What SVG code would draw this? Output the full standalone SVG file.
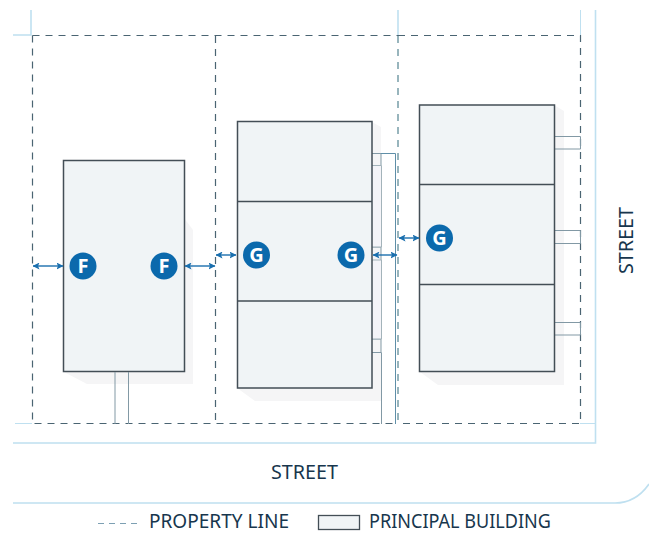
<svg xmlns="http://www.w3.org/2000/svg" width="649" height="537" viewBox="0 0 649 537">
<defs>
<marker id="ah" viewBox="0 0 7 7" refX="6.500" refY="3.500" markerWidth="7" markerHeight="7" markerUnits="userSpaceOnUse" orient="auto-start-reverse"><path d="M0 0L7 3.500L0 7L1.500 3.500Z" fill="#1a6fae"/></marker>
</defs>
<style>
text{font-family:"Noto Sans","Open Sans","Liberation Sans",sans-serif;fill:#17364d}
.street{fill:none;stroke:#bfe0f0;stroke-width:1.6}
.thin{fill:none;stroke:#bfe0f0;stroke-width:1}
.pl{fill:none;stroke:#4a6472;stroke-width:1.200;stroke-dasharray:7 6}
.pl2{fill:none;stroke:#7fa3ad;stroke-width:1.600;stroke-dasharray:7 6}
.shadow{fill:#f5f5f6}
.b{fill:#f0f4f6;stroke:#434e56;stroke-width:1.500}
.div{stroke:#434e56;stroke-width:1.500;fill:none}
.ln{fill:none;stroke:#8299a5;stroke-width:1}
.ln2{fill:none;stroke:#5f8fa8;stroke-width:1}
.side{fill:#f4f4f8;stroke:#a3b3ba;stroke-width:1}
.dim{stroke:#1a6fae;stroke-width:1.400;fill:none;marker-start:url(#ah);marker-end:url(#ah)}
.bc{fill:#0b69ac}
.bt{fill:#fff;font-weight:700;font-size:20px;text-anchor:middle;font-family:"Open Sans","Liberation Sans",sans-serif}
.lab{font-size:19px}
</style>
<g id="streets">
<path class="street" d="M31 10V35H13"/>
<path class="street" d="M398 10V36"/>
<path class="thin" d="M580.500 10V36"/>
<path class="street" d="M595.500 10V443H13"/>
<path class="street" d="M13 503H615C632 503 642 494 649 484"/>
<path class="thin" d="M15 423.500H32M580 423.500H595"/>
</g>
<g id="property-lines">
<path class="pl" d="M32.500 35.500H398M32.500 35.500V423.500H398"/>
<path class="pl" d="M215.500 36V423.500"/>
<path class="pl2" d="M398 36V423.500"/>
<path class="pl" d="M398 35.500H580.500V423.500H398"/>
</g>
<g id="building-left">
<path class="shadow" d="M184 218L193 230V384H87L64 372H184Z"/>
<rect class="b" x="63.500" y="160.500" width="121" height="211"/>
<path class="ln" d="M115 372V424M128.500 372V424"/>
</g>
<g id="building-middle">
<path class="shadow" d="M372 122L381 127V401H255L237 388H372Z"/>
<path class="ln" d="M372 153.500H381V165.500M372 247H381V260M372 339H381V352"/>
<path class="side" d="M372 165.500H381.500V247H372M372 260H381.500V339H372"/>
<path class="ln" d="M372 352.500H381.500V424"/>
<path class="ln2" d="M381 153.500H395.500V424"/>
<rect class="b" x="237.500" y="121.500" width="134.500" height="266.500"/>
<path class="div" d="M237 201.500H372M237 301H372"/>
</g>
<g id="building-right">
<path class="shadow" d="M554 105L564 111V385H438L420 372H554Z"/>
<path class="ln" d="M554 136.500H580.500V149H554M554 230.500H580.500V243.500H554M554 322.500H580.500V335H554"/>
<rect class="b" x="419.500" y="105" width="135" height="266.500"/>
<path class="div" d="M419 184.500H555M419 284.500H555"/>
</g>
<g id="connectors">
<line class="dim" x1="33" y1="266" x2="63" y2="266"/>
<line class="dim" x1="185" y1="266" x2="215" y2="266"/>
<line class="dim" x1="216" y1="255" x2="236" y2="255"/>
<line class="dim" x1="373" y1="255" x2="397" y2="255"/>
<line class="dim" x1="399" y1="238" x2="419" y2="238"/>
</g>
<g id="badge-f1"><circle class="bc" cx="83" cy="266" r="13.500"/><text class="bt" x="83" y="273">F</text></g>
<g id="badge-f2"><circle class="bc" cx="164" cy="266" r="13.500"/><text class="bt" x="164" y="273">F</text></g>
<g id="badge-g1"><circle class="bc" cx="256.500" cy="255" r="13.500"/><text class="bt" x="256.500" y="262">G</text></g>
<g id="badge-g2"><circle class="bc" cx="351" cy="255" r="13.500"/><text class="bt" x="351" y="262">G</text></g>
<g id="badge-g3"><circle class="bc" cx="439.500" cy="238" r="13.500"/><text class="bt" x="439.500" y="245">G</text></g>
<g id="labels">
<text class="lab" x="271" y="479" textLength="67" lengthAdjust="spacingAndGlyphs">STREET</text>
<text class="lab" transform="translate(632.500 274) rotate(-90)" textLength="67" lengthAdjust="spacingAndGlyphs">STREET</text>
<path d="M98 523.500H138" fill="none" stroke="#7da0b3" stroke-width="1" stroke-dasharray="6 5"/>
<text class="lab" x="149" y="528" textLength="140" lengthAdjust="spacingAndGlyphs">PROPERTY LINE</text>
<rect x="318.500" y="515.500" width="41" height="14" fill="#f0f4f6" stroke="#434e56" stroke-width="1.300"/>
<text class="lab" x="369" y="528" textLength="182" lengthAdjust="spacingAndGlyphs">PRINCIPAL BUILDING</text>
</g>
</svg>
